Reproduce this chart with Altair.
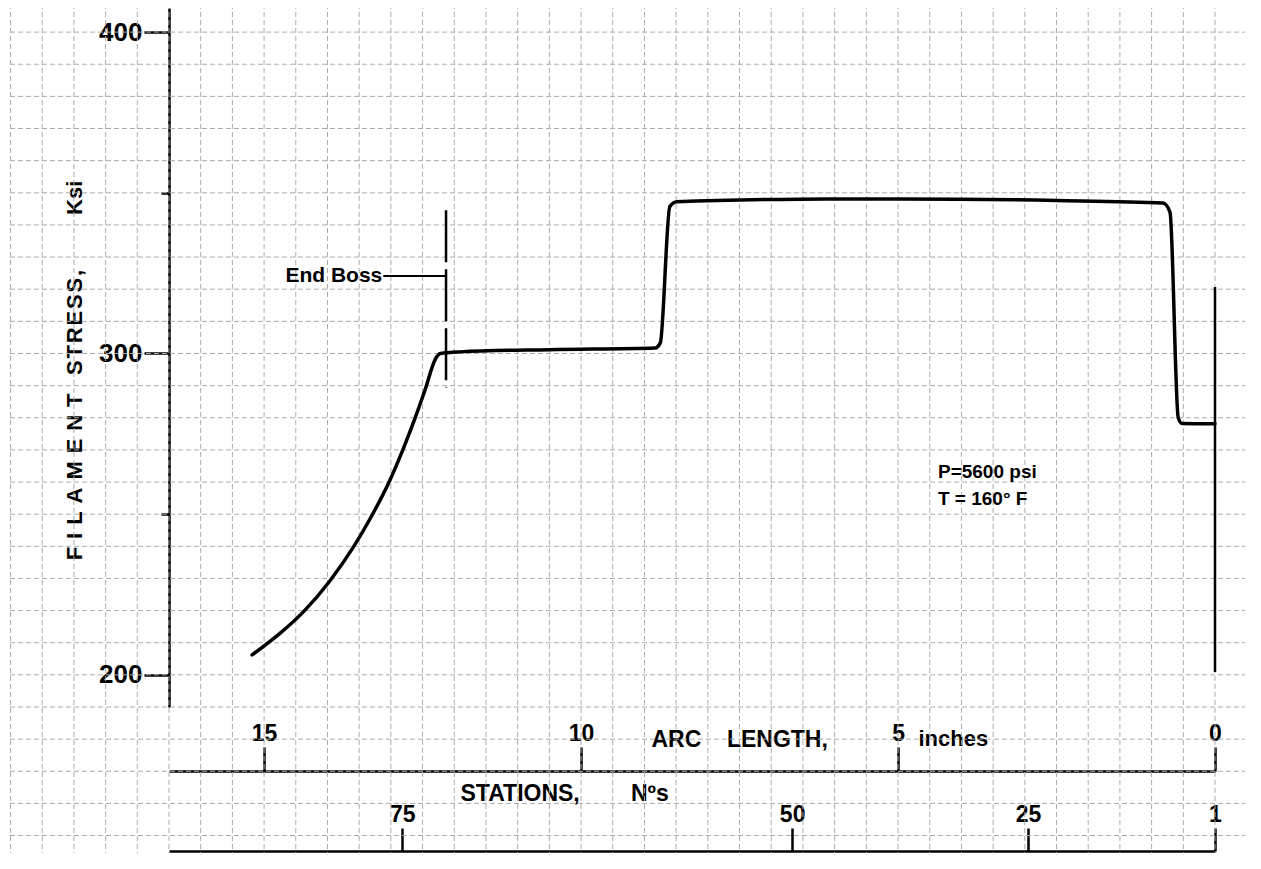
import altair as alt
import numpy as np
import pandas as pd

FONT = "Liberation Sans"
WEIGHT = "bold"
NB = "\u00a0"
HS = "\u200a"

# ---- data ----
ARC = [0.00, 0.52, 0.58, 0.71, 0.82, 2.50, 4.97, 6.55, 8.49, 8.60, 8.75, 8.83,
       10.50, 11.91, 12.22, 12.30, 12.46, 12.62, 12.81, 13.01, 13.33, 13.60,
       13.96, 14.38, 14.75, 15.19]
STRESS = [278.1, 278.2, 280.0, 344.0, 346.8, 347.6, 348.1, 348.0, 347.2, 345.7,
          303.3, 301.7, 301.2, 300.5, 300.0, 298.2, 288.7, 279.8, 270.1, 260.8,
          248.5, 239.5, 229.3, 219.6, 212.9, 206.2]

ARC_TICKS = [15, 10, 5, 0]
STRESS_TICKS = [200, 300, 400]
STRESS_MINOR = [250, 350]
STATION_LABELS = ["75", "50", "25", "1"]
STATION_ARC = [12.82, 6.67, 2.95, 0.0]

# annotations
BOSS_ARC = 12.13
BOSS_TOP, BOSS_BOTTOM = 344.6, 289.3
BOSS_LABEL_ARC, BOSS_LABEL_STRESS = 13.12, 324.1
END_ARC, END_TOP, END_BOTTOM = 0.0, 320.7, 200.9
NOTE_LINES = ["P=5600 psi", "T = 160\u00b0 F"]
NOTE_ARC = 4.37
NOTE_STRESS = [261.3, 252.9]

# graph-paper grid (every 0.5 inch and every 10 ksi)
GRID_ARC = list(np.arange(-0.5, 19.01, 0.5))
GRID_STRESS = list(np.arange(140, 411, 10))

Y_TITLE = (HS + NB).join("FILAMENT") + NB * 3 + HS.join("STRESS,") + NB * 9 + "Ksi"
X_TITLE = "ARC" + NB * 4 + "LENGTH,"
X_UNIT = "inches"
S_TITLE = "STATIONS," + NB * 8 + "N\u00bas"

W, H = 1046, 699

def xs():
    return alt.Scale(domain=[0, 16.5], reverse=True, nice=False, zero=False)

def ys():
    return alt.Scale(domain=[190, 407.5], nice=False, zero=False)

line_df = pd.DataFrame({"arc": ARC, "stress": STRESS})
gx_df = pd.DataFrame({"arc": GRID_ARC})
gy_df = pd.DataFrame({"stress": GRID_STRESS})

arc_axis = alt.Axis(
    orient="top", offset=-763, values=ARC_TICKS, format="d",
    tickSize=24, tickWidth=2.5, domainWidth=2.5,
    labelFontSize=23, labelPadding=2, labelFlush=False, labelOverlap=False,
    title=X_TITLE, titleFontSize=23,
    titleX=482, titleY=-25, titleAlign="left", titleAnchor="start",
    titleBaseline="alphabetic", grid=False,
)
y_axis = alt.Axis(
    orient="left", values=STRESS_TICKS, format="d",
    tickSize=25, tickWidth=2.5, domainWidth=2.5,
    labelFontSize=26, labelPadding=2, labelOverlap=False,
    title=Y_TITLE, titleFontSize=22, titleAngle=270,
    titleX=-88, titleY=362, titleAlign="center", titleBaseline="alphabetic",
    grid=False,
)

grid_style = dict(color="#ababab", strokeWidth=1, strokeDash=[5, 3])
grid_v = alt.Chart(gx_df).mark_rule(**grid_style).encode(
    x=alt.X("arc:Q", scale=xs()), y=alt.value(-12), y2=alt.value(875)
)
grid_h = alt.Chart(gy_df).mark_rule(**grid_style).encode(
    y=alt.Y("stress:Q", scale=ys()), x=alt.value(-175), x2=alt.value(1090)
)

curve = alt.Chart(line_df).mark_line(
    color="black", strokeWidth=3.5, interpolate="monotone",
    strokeCap="round", strokeJoin="round",
).encode(
    x=alt.X("arc:Q", scale=xs(), axis=arc_axis),
    y=alt.Y("stress:Q", scale=ys(), axis=y_axis),
)

boss_df = pd.DataFrame({"arc": [BOSS_ARC], "stress": [BOSS_TOP], "stress2": [BOSS_BOTTOM]})
boss = alt.Chart(boss_df).mark_rule(color="black", strokeWidth=2.5, strokeDash=[52, 7]).encode(
    x=alt.X("arc:Q", scale=xs()), y=alt.Y("stress:Q", scale=ys()), y2="stress2:Q"
)

leader_df = pd.DataFrame({"arc": [BOSS_LABEL_ARC], "arc2": [BOSS_ARC], "stress": [BOSS_LABEL_STRESS]})
leader = alt.Chart(leader_df).mark_rule(color="black", strokeWidth=2).encode(
    x=alt.X("arc:Q", scale=xs()), x2="arc2:Q", y=alt.Y("stress:Q", scale=ys())
)

end_df = pd.DataFrame({"arc": [END_ARC], "stress": [END_TOP], "stress2": [END_BOTTOM]})
end_rule = alt.Chart(end_df).mark_rule(color="black", strokeWidth=2.5).encode(
    x=alt.X("arc:Q", scale=xs()), y=alt.Y("stress:Q", scale=ys()), y2="stress2:Q"
)

boss_txt_df = pd.DataFrame({"arc": [BOSS_LABEL_ARC], "stress": [BOSS_LABEL_STRESS], "t": ["End Boss"]})
boss_txt = alt.Chart(boss_txt_df).mark_text(
    font=FONT, fontSize=21, fontWeight=WEIGHT, align="right", baseline="middle",
    dx=-1, color="black"
).encode(x=alt.X("arc:Q", scale=xs()), y=alt.Y("stress:Q", scale=ys()), text="t:N")

note_df = pd.DataFrame({"arc": [NOTE_ARC] * 2, "stress": NOTE_STRESS, "t": NOTE_LINES})
note = alt.Chart(note_df).mark_text(
    font=FONT, fontSize=19, fontWeight=WEIGHT, align="left", baseline="alphabetic",
    color="black"
).encode(x=alt.X("arc:Q", scale=xs()), y=alt.Y("stress:Q", scale=ys()), text="t:N")

main = alt.layer(grid_v, grid_h, curve, boss, leader, end_rule, boss_txt, note)

label_expr = " : ".join(
    f"datum.value == {v} ? '{s}'" for v, s in zip(STATION_ARC, STATION_LABELS)
) + " : ''"
st_axis = alt.Axis(
    orient="top", offset=-843, values=STATION_ARC, labelExpr=label_expr,
    tickSize=23, tickWidth=2.5, domainWidth=2.5,
    labelFontSize=23, labelPadding=2, labelFlush=False, labelOverlap=False,
    title=S_TITLE, titleFontSize=23,
    titleX=291, titleY=-51, titleAlign="left", titleAnchor="start",
    titleBaseline="alphabetic", grid=False,
)
st_df = pd.DataFrame({"arc": STATION_ARC})
stations = alt.Chart(st_df).mark_point(opacity=0).encode(
    x=alt.X("arc:Q", scale=xs(), axis=st_axis)
)

# unit word of the arc-length axis, and the minor stress ticks
unit_axis = alt.Axis(
    orient="top", offset=-763, values=ARC_TICKS, domain=False, ticks=False,
    labels=False, title=X_UNIT, titleFontSize=22,
    titleX=749, titleY=-26, titleAlign="left", titleAnchor="start",
    titleBaseline="alphabetic", grid=False,
)
minor_df = pd.DataFrame({"stress": STRESS_MINOR, "arc": [0.0, 0.0]})
minor = alt.Chart(minor_df).mark_point(opacity=0).encode(
    x=alt.X("arc:Q", scale=xs(), axis=unit_axis),
    y=alt.Y("stress:Q", scale=ys(), axis=alt.Axis(
        orient="left", values=STRESS_MINOR, tickSize=8, tickWidth=2.5,
        labels=False, domain=False, title="", grid=False)),
)

chart = alt.layer(main, stations, minor).resolve_scale(
    x="independent", y="independent"
).properties(
    width=W, height=H,
    autosize=alt.AutoSizeParams(type="none"),
    padding={"left": 161, "top": 0, "right": 30, "bottom": 146},
    background="white",
).configure_view(stroke="transparent").configure_axis(
    labelFont=FONT, titleFont=FONT, labelColor="black", titleColor="black",
    tickColor="black", domainColor="black",
    labelFontWeight=WEIGHT, titleFontWeight=WEIGHT,
)

chart.save("out.html", embed_options={"renderer": "svg", "actions": False})
